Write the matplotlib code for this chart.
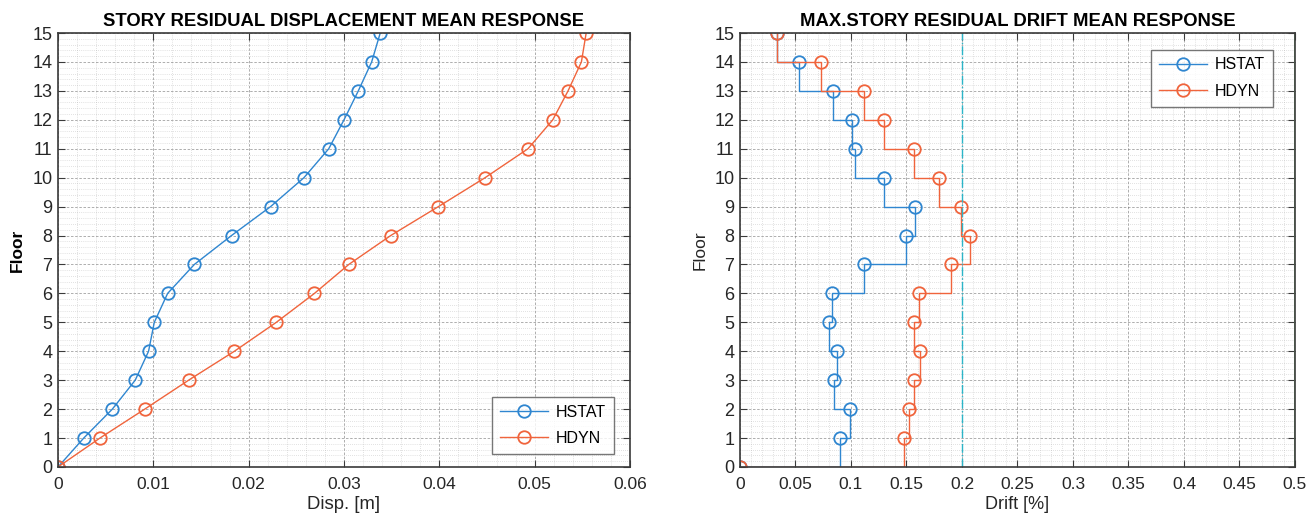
import matplotlib
matplotlib.use('Agg')
import matplotlib.pyplot as plt
import numpy as np
from matplotlib.ticker import AutoMinorLocator, MultipleLocator, FuncFormatter

plt.rcParams['font.family'] = ['Liberation Sans', 'DejaVu Sans']

floors = np.arange(0, 16)

# residual displacement per floor [m]
disp_hstat = [0, 0.0027, 0.0057, 0.0081, 0.0095, 0.0101, 0.0115, 0.0143,
              0.0182, 0.0223, 0.0258, 0.0284, 0.0300, 0.0315, 0.0329, 0.0338]
disp_hdyn = [0, 0.0044, 0.0091, 0.0137, 0.0185, 0.0229, 0.0269, 0.0305,
             0.0349, 0.0399, 0.0448, 0.0493, 0.0519, 0.0535, 0.0549, 0.0554]

# max story residual drift per floor [%]
drift_hstat = [0, 0.090, 0.099, 0.085, 0.087, 0.080, 0.083, 0.112,
               0.150, 0.158, 0.130, 0.104, 0.101, 0.084, 0.053, 0.033]
drift_hdyn = [0, 0.148, 0.152, 0.157, 0.162, 0.157, 0.161, 0.190,
              0.207, 0.199, 0.179, 0.157, 0.130, 0.112, 0.073, 0.033]
drift_limit = 0.2
drift_max = 0.5

blue = '#2f86d0'
orange = '#f0643c'
frame = '#3a3a3a'

fig = plt.figure(figsize=(13.12, 5.24), dpi=100)
ax1 = fig.add_axes([0.0442, 0.1088, 0.4360, 0.8282])
ax2 = fig.add_axes([0.5640, 0.1088, 0.4230, 0.8282])

fmt = FuncFormatter(lambda v, pos: '%g' % round(v, 6))


def style_axes(ax):
    ax.xaxis.set_major_formatter(fmt)
    ax.xaxis.set_minor_locator(AutoMinorLocator(5))
    ax.yaxis.set_minor_locator(AutoMinorLocator(5))
    ax.grid(which='major', color='#7a7a7a', linestyle=(0, (3, 2)), linewidth=0.6, alpha=0.7)
    ax.grid(which='minor', color='#a0a0a0', linestyle=(0, (1, 2)), linewidth=0.5, alpha=0.6)
    ax.tick_params(which='both', direction='in', top=True, right=True, colors=frame,
                   labelcolor='#262626')
    ax.tick_params(which='major', length=5, width=0.8, labelsize=12.5, pad=7)
    ax.tick_params(which='minor', length=0)
    for s in ax.spines.values():
        s.set_color(frame)
        s.set_linewidth(1.2)
    ax.set_axisbelow(True)


mk = dict(marker='o', markersize=9, fillstyle='none', markeredgewidth=1.3, linewidth=1.0)
leg_kw = dict(fontsize=11.5, fancybox=False, edgecolor='#555555', handlelength=3.0,
              borderpad=0.5, labelspacing=0.7, handletextpad=0.5, borderaxespad=0)

# left: displacement profile
ax1.plot(disp_hstat, floors, color=blue, label='HSTAT', **mk)
ax1.plot(disp_hdyn, floors, color=orange, label='HDYN', **mk)
ax1.set_xlim(0, 0.06)
ax1.set_ylim(0, 15)
ax1.xaxis.set_major_locator(MultipleLocator(0.01))
ax1.yaxis.set_major_locator(MultipleLocator(1))
style_axes(ax1)
ax1.tick_params(axis='y', labelsize=13, pad=4)
ax1.set_title('STORY RESIDUAL DISPLACEMENT MEAN RESPONSE', fontsize=13.3,
              fontweight='bold', pad=5)
ax1.set_xlabel('Disp. [m]', fontsize=13.3, labelpad=3, color='#262626')
ax1.set_ylabel('Floor', fontsize=12.5, fontweight='bold', labelpad=5)
leg1 = ax1.legend(loc='lower right', bbox_to_anchor=(0.972, 0.03), **leg_kw)
leg1.get_frame().set_linewidth(1.0)

# right: drift profile (stairs)
ax2.step(drift_hstat, floors, where='post', color=blue, label='HSTAT', **mk)
ax2.step(drift_hdyn, floors, where='post', color=orange, label='HDYN', **mk)
ax2.axvline(drift_limit, color='#2bb5c8', linestyle='-.', linewidth=1.0)
ax2.axvline(drift_max, color='#8fd18f', linestyle='-', linewidth=1.4)
ax2.set_xlim(0, 0.5)
ax2.set_ylim(0, 15)
ax2.xaxis.set_major_locator(MultipleLocator(0.05))
ax2.yaxis.set_major_locator(MultipleLocator(1))
style_axes(ax2)
ax2.tick_params(axis='y', labelsize=13, pad=4)
ax2.set_title('MAX.STORY RESIDUAL DRIFT MEAN RESPONSE', fontsize=13.3,
              fontweight='bold', pad=5)
ax2.set_xlabel('Drift [%]', fontsize=13, labelpad=3, color='#262626')
ax2.set_ylabel('Floor', fontsize=12.5, labelpad=5, color='#262626')
leg2 = ax2.legend(loc='upper right', bbox_to_anchor=(0.960, 0.962), **leg_kw)
leg2.get_frame().set_linewidth(1.0)

plt.savefig('out.png', dpi=100)
